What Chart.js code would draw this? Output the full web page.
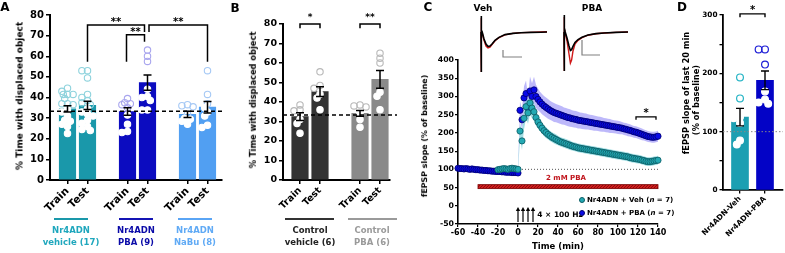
<!DOCTYPE html>
<html><head><meta charset="utf-8">
<script src="https://cdn.jsdelivr.net/npm/chart.js@4.4.1/dist/chart.umd.min.js"></script>
<style>
html,body{margin:0;padding:0;background:#fff;}
#wrap{position:relative;width:785px;height:253px;overflow:hidden;font-family:"DejaVu Sans",sans-serif;font-weight:bold;}
canvas{position:absolute;top:0;}
.t{position:absolute;white-space:nowrap;line-height:1;transform:translate(-50%,-50%);}
.t.r{transform:translate(-50%,-50%) rotate(-90deg);}
.t.l{transform:translate(0,-50%);}
.ln{position:absolute;height:1.6px;}
.dot{position:absolute;border-radius:50%;box-sizing:border-box;}
</style></head><body><div id="wrap">
<canvas id="cA" width="235" height="253" style="left:0px"></canvas>
<canvas id="cB" width="165" height="253" style="left:235px"></canvas>
<canvas id="cC" width="270" height="253" style="left:400px"></canvas>
<canvas id="cTv" width="85" height="80" style="left:470px"></canvas>
<canvas id="cTp" width="85" height="80" style="left:553px"></canvas>
<canvas id="cD" width="115" height="253" style="left:670px"></canvas>
</div>
<script>
// ================= DATA =================
// Panel A
const aLabels = ['Train','Test','Train','Test','Train','Test'];
const aMeans = [34.5, 36.2, 33.2, 47.2, 31.8, 35.3];
const aSems  = [1.5, 2.0, 1.8, 3.7, 1.5, 2.8];
const aVehTrain  = [44.5, 43, 41.5, 41.5, 41.5, 39.5, 37, 37, 36.5, 34, 33, 31, 29, 28.5, 27, 26, 22.5];
const aVehTest   = [53, 53, 49.5, 41.5, 40, 38.5, 37.5, 36.5, 34.5, 33, 32, 31, 29, 27.5, 26, 24.5, 24];
const aPbaTrain  = [39.5, 37.5, 37, 36.5, 35, 31.5, 27, 23.5, 23];
const aPbaTest   = [63, 60, 57.5, 44, 40.5, 40, 38.5, 34, 34];
const aNabuTrain = [36.5, 36, 35.5, 32, 30, 29.5, 28.5, 27];
const aNabuTest  = [53, 41.5, 37, 35, 33, 31, 26.5, 25.5];
const aChance = 33.3;
// Panel B
const bLabels = ['Train','Test','Train','Test'];
const bMeans = [32.5, 45.3, 34.2, 51.6];
const bSems  = [2.0, 2.5, 1.5, 4.5];
const bCtlVehTrain = [38.5, 36, 35.5, 31, 29, 24];
const bCtlVehTest  = [55.5, 48.5, 47, 44, 42, 36];
const bCtlPbaTrain = [38.5, 38, 37.5, 34, 31, 27];
const bCtlPbaTest  = [65, 62.5, 60, 45, 43, 36];
const bChance = 33.3;
// Panel C (time in min, fEPSP slope % of baseline)
const cBaseTimes = [-60,-58,-56,-54,-52,-50,-48,-46,-44,-42,-40,-38,-36,-34,-32,-30,-28,-26,-24,-22,-20,-18,-16,-14,-12,-10,-8,-6,-4,-2,0];
const cVehBaseTimes = [-20,-18,-16,-14,-12,-10,-8,-6,-4,-2,0];
const cPostTimes = [2,4,6,8,10,12,14,16,18,20,22,24,26,28,30,32,34,36,38,40,42,44,46,48,50,52,54,56,58,60,62,64,66,68,70,72,74,76,78,80,82,84,86,88,90,92,94,96,98,100,102,104,106,108,110,112,114,116,118,120,122,124,126,128,130,132,134,136,138,140];
const cPbaBase = [103,102,102,101,102,101,100,101,100,99, 99,98,98,97,97,96,96,95,95,94, 94,94,93,93,92,92,92,91,91,91, 90];
const cPbaBaseSem = [4,4,5,4,4,5,4,4,4,5, 4,4,4,5,4,4,4,4,5,4, 4,4,4,5,4,4,5,4,4,5, 5];
const cVehBase = [99,100,101,102,101,100,102,103,102,101,100];
const cVehBaseSem = [5,5,6,5,5,6,5,5,6,5,6];
const cPbaPost = [262,236,296,308,268,315,300,318,300,292, 285,279,274,270,266,262,259,256,254,252, 250,248,246,244,242,241,239,238,237,235, 234,233,232,231,230,229,228,227,226,225, 224,223,222,221,220,219,218,217,216,215, 214,213,211,210,208,207,205,203,202,200, 198,196,194,192,190,189,188,188,189,191];
const cPbaPostSem = [25,28,32,36,32,40,36,36,32,30, 28,28,27,27,27,26,26,26,25,25, 25,25,24,24,24,24,23,23,23,23, 22,22,22,22,21,21,21,21,20,20, 20,20,19,19,19,19,18,18,18,18, 18,17,17,17,17,17,16,16,16,16, 16,16,15,15,15,15,15,15,15,15];
const cVehPost = [205,178,240,272,255,282,268,258,242,230, 221,213,206,201,196,192,188,185,182,179, 176,174,172,170,168,166,164,162,161,159, 158,157,156,155,154,153,152,151,150,149, 148,147,146,145,144,143,142,141,140,139, 138,137,136,135,134,132,131,130,129,128, 127,125,124,122,121,121,122,123,124,125];
const cVehPostSem = [22,25,30,32,30,32,28,25,22,18, 16,15,15,15,14,14,14,14,14,13, 13,13,13,13,13,13,12,12,12,12, 12,12,12,12,12,12,12,12,12,12, 12,12,12,12,12,12,12,12,12,12, 12,12,12,12,12,12,12,12,12,12, 12,12,12,12,12,12,12,12,12,12];
const cBaselineRef = 100;
const cPbaWindow = [-40, 140];
const cTetanusTimes = [0, 5, 10, 15];
// Example traces (ms, mV)
const trVehT     = [0, 0.05, 0.15, 0.3, 0.6, 1.5, 2.5, 3.5, 4.5, 5.5, 7, 9, 12, 16, 20, 25, 30, 33];
const trVehBlack = [0, 0.8, -2.0, 0.1, 0.0, -0.35, -0.6, -0.72, -0.7, -0.6, -0.42, -0.27, -0.13, -0.07, -0.04, -0.02, -0.01, 0];
const trVehRed   = [0, 0.7, -2.0, 0.05, -0.05, -0.42, -0.7, -0.8, -0.76, -0.63, -0.44, -0.28, -0.14, -0.07, -0.03, -0.02, 0, 0.01];
const trPbaT     = [0, 0.05, 0.15, 0.3, 0.6, 1.5, 2.5, 3.2, 3.8, 4.5, 5.5, 7, 9, 12, 16, 20, 26, 32];
const trPbaBlack = [0, 0.85, -1.95, 0.2, 0.0, -0.3, -0.7, -0.92, -0.88, -0.72, -0.52, -0.38, -0.26, -0.15, -0.08, -0.05, -0.02, 0];
const trPbaRed   = [0, 0.75, -1.95, 0.15, -0.05, -0.45, -1.1, -1.55, -1.4, -0.95, -0.6, -0.42, -0.28, -0.16, -0.09, -0.05, -0.02, 0];
// Panel D
const dLabels = ['Nr4ADN-Veh','Nr4ADN-PBA'];
const dMeans = [125, 188];
const dSems  = [15, 16];
const dVeh = [193, 157, 125, 123, 115, 85, 78];
const dPba = [241, 241, 215, 169, 155, 150, 148];
const dRef = 100;

// ================= HELPERS =================
const FONT = '"DejaVu Sans", sans-serif';
Chart.defaults.font.family = FONT;
Chart.defaults.color = '#000';
const wrap = document.getElementById('wrap');
function txt(s, x, y, size, color, cls){
  const d = document.createElement('div');
  d.className = 't' + (cls ? ' ' + cls : '');
  d.style.left = x + 'px'; d.style.top = y + 'px';
  d.style.fontSize = size + 'px'; d.style.color = color || '#000';
  d.innerHTML = s; wrap.appendChild(d); return d;
}
function hline(x1, x2, y, color){
  const d = document.createElement('div'); d.className = 'ln';
  d.style.left = x1 + 'px'; d.style.width = (x2 - x1) + 'px'; d.style.top = y + 'px';
  d.style.background = color; wrap.appendChild(d);
}
function star(s, cx, cy, fs){ txt(s, cx, cy + 0.18 * fs, fs, '#000'); }

// compact beeswarm placement (pixel offsets converted to x units)
function beeswarm(vals, pxX, pxY, r, step){
  const order = vals.map((v,i)=>i).sort((a,b)=>vals[b]-vals[a]);
  const cand = [0,-1,1,-2,2,-0.5,0.5,-1.5,1.5].map(k=>k*step);
  const placed = [], off = new Array(vals.length).fill(0);
  for (const i of order){
    const py = vals[i]*pxY; let best = 0, bestD = -1;
    for (const px of cand){
      let md = Infinity;
      for (const p of placed){ const d = Math.hypot(p[0]-px, p[1]-py); if (d < md) md = d; }
      if (md >= 1.35*r){ best = px; bestD = md; break; }
      if (md > bestD){ bestD = md; best = px; }
    }
    placed.push([best, py]); off[i] = best / pxX;
  }
  return off;
}

function barPanel(o){
  const el = document.getElementById(o.id);
  const W = el.width, H = el.height;
  const [aL, aR, aT, aB] = o.area;
  const pxX = (aR - aL) / (o.xRange[1] - o.xRange[0]);
  const pxY = (aB - aT) / o.yMax;
  const pts = [], bg = [], bd = [];
  o.points.forEach((arr, g)=>{
    const offs = beeswarm(arr, pxX, pxY, o.r, o.step);
    arr.forEach((v, j)=>{
      pts.push({x: o.xPos[g] + offs[j], y: v});
      const above = v > o.means[g];
      bg.push(above ? 'rgba(255,255,255,0)' : '#ffffff');
      bd.push(above ? o.hollow[g] : '#ffffff');
    });
  });
  const grid = {display:true, drawOnChartArea:false, drawTicks:true, offset:false, tickLength:o.tickLen, color:'#000', lineWidth:o.tickW};
  const border = {display:true, color:'#000', width:o.axisW};
  const overlay = {
    id: 'ov' + o.id,
    afterDatasetsDraw(ch){
      const c = ch.ctx, x = ch.scales.x, y = ch.scales.y, a = ch.chartArea;
      c.save();
      if (o.ref){
        c.setLineDash(o.ref.dash); c.strokeStyle = o.ref.color; c.lineWidth = o.ref.w;
        const yy = y.getPixelForValue(o.ref.value);
        c.beginPath(); c.moveTo(a.left, yy); c.lineTo(a.right + o.ref.ext, yy); c.stroke();
        c.setLineDash([]);
      }
      c.strokeStyle = '#000'; c.lineWidth = o.errW;
      o.means.forEach((m, i)=>{
        const px = x.getPixelForValue(o.xPos[i]);
        const t = y.getPixelForValue(m + o.sems[i]), b = y.getPixelForValue(m - o.sems[i]);
        c.beginPath(); c.moveTo(px, t); c.lineTo(px, b);
        c.moveTo(px - o.capW/2, t); c.lineTo(px + o.capW/2, t);
        c.moveTo(px - o.capW/2, b); c.lineTo(px + o.capW/2, b);
        c.stroke();
      });
      c.lineWidth = o.brW;
      o.brackets.forEach(b=>{
        const x1 = x.getPixelForValue(b.x1), x2 = x.getPixelForValue(b.x2);
        const yy = y.getPixelForValue(b.y), y1 = y.getPixelForValue(b.d1), y2 = y.getPixelForValue(b.d2);
        c.beginPath(); c.moveTo(x1, y1); c.lineTo(x1, yy); c.lineTo(x2, yy); c.lineTo(x2, y2); c.stroke();
      });
      c.restore();
    }
  };
  const chart = new Chart(el, {
    type: 'bar',
    data: {datasets: [
      {type:'line', data:pts, showLine:false, pointRadius:o.r, pointBackgroundColor:bg, pointBorderColor:bd, pointBorderWidth:o.ptBW, clip:false, order:1},
      {type:'bar', data:o.xPos.map((x,i)=>({x, y:o.means[i]})), backgroundColor:o.barColors, barThickness:o.barW, borderWidth:0, order:2}
    ]},
    options: {
      responsive:false, animation:false, events:[],
      layout:{autoPadding:false, padding:{left:0, top:aT, right:W - aR, bottom:0}},
      plugins:{legend:{display:false}, tooltip:{enabled:false}},
      scales:{
        x:{type:'linear', min:o.xRange[0], max:o.xRange[1], offset:false,
           afterBuildTicks(s){ s.ticks = o.xPos.map(v=>({value:v})); },
           afterFit(s){ s.height = H - aB; },
           ticks:{callback:(v,i)=>o.labels[i], font:{size:o.xFont, weight:'bold'}, color:'#000', minRotation:45, maxRotation:45, autoSkip:false, padding:o.xPad},
           grid, border},
        y:{min:0, max:o.yMax,
           afterFit(s){ s.width = aL; },
           ticks:{stepSize:o.yStep, font:{size:o.yFont, weight:'bold'}, color:'#000', padding:2, autoSkip:false, callback:o.yCb || (v=>v)},
           grid, border}
      }
    },
    plugins:[overlay]
  });
  const left = parseFloat(el.style.left);
  o.brackets.forEach(b=>{
    const cx = (chart.scales.x.getPixelForValue(b.x1) + chart.scales.x.getPixelForValue(b.x2)) / 2 + left;
    const cy = chart.scales.y.getPixelForValue(b.y) - o.starOff;
    star(b.label, cx, cy, o.starFont);
  });
  return chart;
}

// ================= PANEL A =================
barPanel({
  id:'cA', area:[50, 222, 15, 180], xRange:[0.125, 8.725], xPos:[1,2,4,5,7,8],
  yMax:80, yStep:10, labels:aLabels, means:aMeans, sems:aSems,
  points:[aVehTrain, aVehTest, aPbaTrain, aPbaTest, aNabuTrain, aNabuTest],
  barColors:['#1a98aa','#1a98aa','#0c0cc0','#0c0cc0','#519ff2','#519ff2'],
  hollow:['#8fd3dd','#8fd3dd','#a9a6ee','#a9a6ee','#a6c9f5','#a6c9f5'],
  r:3.2, step:2.8, ptBW:1.1, barW:16.5, tickLen:4, tickW:1.5, axisW:2, xFont:10.5, yFont:10, xPad:1,
  errW:1.5, capW:8, brW:1.5,
  ref:{value:aChance, dash:[4,3], color:'#000', w:1.5, ext:3},
  brackets:[
    {x1:2, x2:4.85, y:75.2, d1:57.3, d2:71.8, label:'**'},
    {x1:3.95, x2:4.85, y:70.4, d1:57.3, d2:67, label:'**'},
    {x1:5.075, x2:8, y:75.2, d1:71.8, d2:57.3, label:'**'}
  ], starOff:5, starFont:10
});
// ================= PANEL B =================
barPanel({
  id:'cB', area:[48, 155, 24, 180], xRange:[0.15, 5.5], xPos:[1,2,4,5],
  yMax:80, yStep:10, labels:bLabels, means:bMeans, sems:bSems,
  points:[bCtlVehTrain, bCtlVehTest, bCtlPbaTrain, bCtlPbaTest],
  barColors:['#333333','#333333','#8a8a8a','#8a8a8a'],
  hollow:['#b8b8b8','#b8b8b8','#b8b8b8','#b8b8b8'],
  r:3.2, step:3, ptBW:1.1, barW:16.5, tickLen:4, tickW:1.5, axisW:2, xFont:9.5, yFont:9.5, xPad:1,
  errW:1.5, capW:8, brW:1.5,
  ref:{value:bChance, dash:[4,3], color:'#000', w:1.5, ext:7},
  brackets:[
    {x1:1, x2:2, y:80, d1:77.8, d2:77.8, label:'*'},
    {x1:4, x2:5, y:80, d1:77.8, d2:77.8, label:'**'}
  ], starOff:9, starFont:9
});
// ================= PANEL D =================
barPanel({
  id:'cD', area:[53, 113, 15, 190], xRange:[0.32, 2.72], xPos:[1,2],
  yMax:300, yStep:50, labels:dLabels, means:dMeans, sems:dSems,
  points:[dVeh, dPba],
  barColors:['#1c9fb2','#0303c6'],
  hollow:['#22b3c4','#1d1dd6'],
  r:3.4, step:3.2, ptBW:1.2, barW:17, tickLen:3.5, tickW:1.3, axisW:1.8, xFont:7.5, yFont:7.3, xPad:1,
  yCb:(v)=> (v % 100 === 0 ? v : ''),
  errW:1.4, capW:8, brW:1.4,
  ref:{value:dRef, dash:[1.5,2], color:'#888', w:1, ext:0},
  brackets:[{x1:1, x2:2, y:302, d1:296, d2:296, label:'*'}], starOff:6, starFont:10
});

// ================= PANEL C =================
function pairs(ts, vs){ return ts.map((t,i)=>({x:t, y:vs[i]})); }
const pT = cBaseTimes.concat(cPostTimes), pV = cPbaBase.concat(cPbaPost), pS = cPbaBaseSem.concat(cPbaPostSem);
const vT = cVehBaseTimes.concat(cPostTimes), vV = cVehBase.concat(cVehPost), vS = cVehBaseSem.concat(cVehPostSem);
const hatch = (()=>{ const cv = document.createElement('canvas'); cv.width = 3; cv.height = 3; const g = cv.getContext('2d');
  g.fillStyle = '#cf1d1d'; g.fillRect(0,0,3,3); g.fillStyle = '#8e0b0b'; g.fillRect(0,0,1,1); g.fillRect(2,1,1,1); g.fillRect(1,2,1,1);
  return g; })();
const cOverlay = {
  id:'cov',
  beforeDatasetsDraw(ch){
    const c = ch.ctx, x = ch.scales.x, y = ch.scales.y;
    c.save(); c.strokeStyle = '#555'; c.lineWidth = 1; c.setLineDash([1,2]);
    const yy = y.getPixelForValue(cBaselineRef);
    c.beginPath(); c.moveTo(x.getPixelForValue(1), yy); c.lineTo(x.getPixelForValue(140), yy); c.stroke();
    c.restore();
  },
  afterDatasetsDraw(ch){
    const c = ch.ctx, x = ch.scales.x, y = ch.scales.y, a = ch.chartArea;
    c.save();
    const x1 = x.getPixelForValue(cPbaWindow[0]), x2 = x.getPixelForValue(cPbaWindow[1]);
    const yT = y.getPixelForValue(58), yB = y.getPixelForValue(47);
    c.fillStyle = c.createPattern(hatch.canvas, 'repeat');
    c.fillRect(x1, yT, x2 - x1, yB - yT);
    c.strokeStyle = '#7a0000'; c.lineWidth = 0.8; c.strokeRect(x1, yT, x2 - x1, yB - yT);
    c.strokeStyle = '#000'; c.fillStyle = '#000'; c.lineWidth = 1.2;
    cTetanusTimes.forEach(t=>{
      const px = x.getPixelForValue(t), yb = a.bottom - 2, yt = a.bottom - 17;
      c.beginPath(); c.moveTo(px, yb); c.lineTo(px, yt + 3); c.stroke();
      c.beginPath(); c.moveTo(px - 2.2, yt + 4); c.lineTo(px, yt); c.lineTo(px + 2.2, yt + 4); c.closePath(); c.fill();
    });
    c.lineWidth = 1.3;
    const bx1 = x.getPixelForValue(118), bx2 = x.getPixelForValue(138), by = y.getPixelForValue(244), bd = y.getPixelForValue(236);
    c.beginPath(); c.moveTo(bx1, bd); c.lineTo(bx1, by); c.lineTo(bx2, by); c.lineTo(bx2, bd); c.stroke();
    c.restore();
  }
};
const cGrid = {display:true, drawOnChartArea:false, drawTicks:true, tickLength:3, color:'#000', lineWidth:1.2};
const cBorder = {display:true, color:'#000', width:1.6};
const cChart = new Chart(document.getElementById('cC'), {
  type:'line',
  data:{datasets:[
    {data:pairs(vT, vV), showLine:false, pointRadius:3.1, pointBackgroundColor:'#24a9b3', pointBorderColor:'#0b5c64', pointBorderWidth:0.8, clip:false, order:0},
    {data:pairs(pT, pV), showLine:false, pointRadius:3.1, pointBackgroundColor:'#0a0ae8', pointBorderColor:'#00006e', pointBorderWidth:0.8, clip:false, order:1},
    {data:pairs(vT, vV.map((v,i)=>v + vS[i])), pointRadius:0, borderWidth:0, borderColor:'transparent', fill:false, order:2},
    {data:pairs(vT, vV.map((v,i)=>v - vS[i])), pointRadius:0, borderWidth:0, borderColor:'transparent', fill:2, backgroundColor:'rgba(70,190,200,0.5)', order:2},
    {data:pairs(pT, pV.map((v,i)=>v + pS[i])), pointRadius:0, borderWidth:0, borderColor:'transparent', fill:false, order:3},
    {data:pairs(pT, pV.map((v,i)=>v - pS[i])), pointRadius:0, borderWidth:0, borderColor:'transparent', fill:4, backgroundColor:'rgba(135,125,245,0.55)', order:3}
  ]},
  options:{
    responsive:false, animation:false, events:[],
    layout:{autoPadding:false, padding:{left:0, top:60, right:12, bottom:0}},
    plugins:{legend:{display:false}, tooltip:{enabled:false}},
    scales:{
      x:{type:'linear', min:-60, max:140, afterFit(s){ s.height = 253 - 224; },
         ticks:{stepSize:20, font:{size:8, weight:'bold'}, color:'#000', maxRotation:0, autoSkip:false, padding:1},
         grid:cGrid, border:cBorder},
      y:{min:-50, max:400, afterFit(s){ s.width = 58; },
         ticks:{stepSize:50, font:{size:7.8, weight:'bold'}, color:'#000', autoSkip:false, padding:1},
         grid:cGrid, border:cBorder}
    }
  },
  plugins:[cOverlay]
});
star('*', 400 + (cChart.scales.x.getPixelForValue(118) + cChart.scales.x.getPixelForValue(138)) / 2, cChart.scales.y.getPixelForValue(244) - 6, 10);

// ================= TRACES =================
function traceChart(id, ts, black, red, bar){
  const scaleBar = {
    id:'sb' + id,
    afterDatasetsDraw(ch){
      const c = ch.ctx, x = ch.scales.x, y = ch.scales.y;
      c.save(); c.strokeStyle = '#808080'; c.lineWidth = 1.2;
      c.beginPath(); c.moveTo(x.getPixelForValue(bar[0]), y.getPixelForValue(bar[2]));
      c.lineTo(x.getPixelForValue(bar[0]), y.getPixelForValue(bar[3]));
      c.lineTo(x.getPixelForValue(bar[1]), y.getPixelForValue(bar[3])); c.stroke(); c.restore();
    }
  };
  return new Chart(document.getElementById(id), {
    type:'line',
    data:{datasets:[
      {data:pairs(ts, black), borderColor:'#000', borderWidth:1.6, pointRadius:0, clip:false, order:0},
      {data:pairs(ts, red), borderColor:'#d01818', borderWidth:1.4, pointRadius:0, clip:false, order:1}
    ]},
    options:{responsive:false, animation:false, events:[],
      layout:{autoPadding:false, padding:0},
      plugins:{legend:{display:false}, tooltip:{enabled:false}},
      scales:{x:{type:'linear', display:false, min:-5.5, max:37}, y:{display:false, min:-2.4, max:1.6}}},
    plugins:[scaleBar]
  });
}
traceChart('cTv', trVehT, trVehBlack, trVehRed, [11, 20.5, -0.9, -1.25]);
traceChart('cTp', trPbaT, trPbaBlack, trPbaRed, [9, 18, -0.4, -1.15]);

// ================= TEXT =================
txt('A', 5, 7, 12); txt('B', 235, 8, 12); txt('C', 428, 7, 12); txt('D', 682, 7, 12);
txt('% Time with displaced object', 20, 96, 9, '#000', 'r');
txt('% Time with displaced object', 253, 100, 8.3, '#000', 'r');
txt('fEPSP slope (% of baseline)', 425, 136, 7.9, '#000', 'r');
txt('fEPSP slope of last 20 min', 686, 93, 8.3, '#000', 'r');
txt('(% of baseline)', 696, 100, 8.3, '#000', 'r');
hline(54, 88, 218, '#1a98aa'); txt('Nr4ADN', 71, 230, 8.5, '#1fa7bd'); txt('vehicle (17)', 71, 241.5, 8.5, '#1fa7bd');
hline(119, 153, 218, '#1414b4'); txt('Nr4ADN', 136, 230, 8.5, '#0a0aa8'); txt('PBA (9)', 136, 241.5, 8.5, '#0a0aa8');
hline(178, 212, 218, '#5aa5f5'); txt('Nr4ADN', 195, 230, 8.5, '#60aaf5'); txt('NaBu (8)', 195, 241.5, 8.5, '#60aaf5');
hline(285, 334, 218, '#333'); txt('Control', 310, 230, 8.5, '#222'); txt('vehicle (6)', 310, 241.5, 8.5, '#222');
hline(348, 397, 218, '#9a9a9a'); txt('Control', 372, 230, 8.5, '#9a9a9a'); txt('PBA (6)', 372, 241.5, 8.5, '#9a9a9a');
txt('Veh', 483, 8, 9); txt('PBA', 592, 8, 9);
txt('2 mM PBA', 566, 178, 7, '#c0141c');
txt('4 × 100 Hz', 560, 215, 7.5);
txt('Time (min)', 558, 246, 8.5);
function legendDot(cx, cy, fill, stroke){
  const d = document.createElement('div'); d.className = 'dot';
  d.style.left = (cx - 3.2) + 'px'; d.style.top = (cy - 3.2) + 'px'; d.style.width = '6.4px'; d.style.height = '6.4px';
  d.style.background = fill; d.style.border = '0.8px solid ' + stroke; wrap.appendChild(d);
}
legendDot(582, 200, '#24a9b3', '#0b5c64'); legendDot(582, 213, '#0a0ae8', '#00006e');
txt('Nr4ADN + Veh (<i>n</i> = 7)', 587, 200, 7, '#000', 'l');
txt('Nr4ADN + PBA (<i>n</i> = 7)', 587, 213, 7, '#000', 'l');
</script></body></html>
